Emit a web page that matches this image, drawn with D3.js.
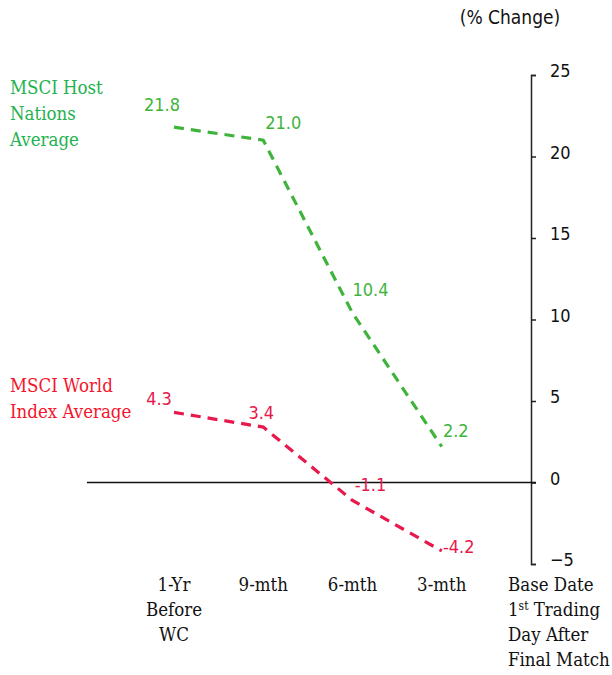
<!DOCTYPE html>
<html>
<head>
<meta charset="utf-8">
<script src="https://cdn.jsdelivr.net/npm/d3@7"></script>
<style>
  body { margin: 0; background: #fff; }
  .serif { font-family: "DejaVu Serif Condensed", "DejaVu Serif", serif; }
  .num { font-family: "Liberation Sans Narrow", "DejaVu Sans Condensed", sans-serif; }
</style>
</head>
<body>
<svg width="612" height="675"></svg>
<script>
    // categories along the bottom, last one sits on the axis
    const categories = ["1yr", "9m", "6m", "3m", "base"];
    const categoryLabels = [
      ["1-Yr", "Before", "WC"],
      ["9-mth"],
      ["6-mth"],
      ["3-mth"],
      ["Base Date", "1st Trading", "Day After", "Final Match"]
    ];

    const hostValues = [21.8, 21.0, 10.4, 2.2];
    const worldValues = [4.3, 3.4, -1.1, -4.2];
    const yTicks = [25, 20, 15, 10, 5, 0, -5];

    const green = "#3fb43c", greenText = "#22b24f";
    const red = "#e8184c", redText = "#f5142d";

    const svg = d3.select("svg");

    const x = d3.scalePoint()
      .domain(categories)
      .range([174, 531]);

    const y = d3.scaleLinear()
      .domain([-5, 25])
      .range([564, 75]);

    // right axis
    const axisX = x("base");
    svg.append("g")
      .attr("transform", `translate(${axisX},0)`)
      .call(d3.axisRight(y).tickValues(yTicks).tickSize(5).tickPadding(14).tickFormat(d3.format("d")))
      .call(g => g.select(".domain").attr("stroke", "#222").attr("stroke-width", 1.5))
      .call(g => g.selectAll(".tick line").attr("stroke", "#222").attr("stroke-width", 1.5))
      .call(g => g.selectAll(".tick text")
        .attr("class", "num")
        .attr("dy", "0.1em")
        .style("font-size", "18px")
        .attr("fill", "#111"));

    svg.append("text")
      .attr("class", "num")
      .attr("x", 510)
      .attr("y", 24)
      .attr("text-anchor", "middle")
      .style("font-size", "19px")
      .attr("fill", "#111")
      .text("(% Change)");

    // zero line
    svg.append("line")
      .attr("x1", 87)
      .attr("x2", axisX + 5)
      .attr("y1", y(0))
      .attr("y2", y(0))
      .attr("stroke", "#111")
      .attr("stroke-width", 1.5);

    const line = d3.line()
      .x((d, i) => x(categories[i]))
      .y(d => y(d));

    svg.append("path")
      .datum(hostValues)
      .attr("fill", "none")
      .attr("stroke", green)
      .attr("stroke-width", 3.2)
      .attr("stroke-dasharray", "10,7")
      .attr("d", line);

    svg.append("path")
      .datum(worldValues)
      .attr("fill", "none")
      .attr("stroke", red)
      .attr("stroke-width", 3.2)
      .attr("stroke-dasharray", "10,7")
      .attr("d", line);

    // label offsets from each point (dx, dy)
    const hostOffsets = [[-12, -22], [20, -18], [18, -23], [14, -16]];
    const worldOffsets = [[-15, -14], [-2, -14], [18, -16], [17, -4]];

    function addLabels(vals, offs, color) {
      svg.append("g").selectAll("text")
        .data(vals)
        .enter().append("text")
        .attr("class", "num")
        .attr("x", (d, i) => x(categories[i]) + offs[i][0])
        .attr("y", (d, i) => y(d) + offs[i][1])
        .attr("text-anchor", "middle")
        .attr("dy", "0.35em")
        .style("font-size", "18px")
        .attr("fill", color)
        .text(d => d.toFixed(1));
    }
    addLabels(hostValues, hostOffsets, green);
    addLabels(worldValues, worldOffsets, red);

    // series names
    const legend = [
      {lines: ["MSCI Host", "Nations", "Average"], y: 94, color: greenText},
      {lines: ["MSCI World", "Index Average"], y: 392, color: redText}
    ];
    legend.forEach(l => {
      const t = svg.append("text")
        .attr("class", "serif")
        .attr("x", 10)
        .attr("y", l.y)
        .style("font-size", "18.5px")
        .attr("fill", l.color);
      l.lines.forEach((s, i) => {
        t.append("tspan").attr("x", 10).attr("dy", i ? 26 : 0).text(s);
      });
    });

    // category labels
    categoryLabels.forEach((lines, ci) => {
      const isBase = categories[ci] === "base";
      const t = svg.append("text")
        .attr("class", "serif")
        .attr("y", 591)
        .attr("text-anchor", isBase ? "start" : "middle")
        .style("font-size", "18.5px")
        .attr("fill", "#111");
      const cx = isBase ? 508 : x(categories[ci]);
      lines.forEach((s, i) => {
        const ts = t.append("tspan").attr("x", cx).attr("dy", i ? 25 : 0);
        if (s === "1st Trading") {
          ts.text("1");
          ts.append("tspan").attr("dy", -6).style("font-size", "12px").text("st");
          ts.append("tspan").attr("dy", 6).text(" Trading");
        } else {
          ts.text(s);
        }
      });
    });
</script>
</body>
</html>
